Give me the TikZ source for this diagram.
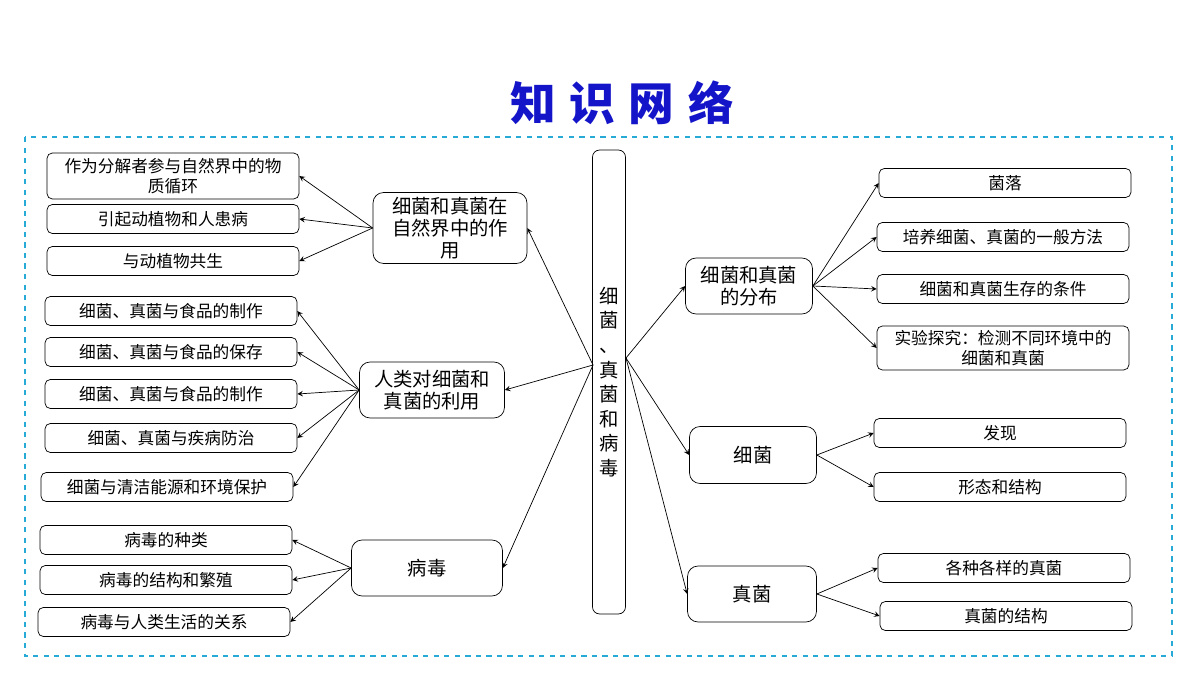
\documentclass[tikz,border=0pt]{standalone}
\usepackage{fontspec}
\setmainfont{Noto Sans CJK SC}
\usetikzlibrary{arrows,positioning}
\definecolor{frameblue}{RGB}{40,170,215}
\definecolor{titleblue}{RGB}{20,20,200}

\begin{document}
\begin{tikzpicture}[x=0.02cm, y=-0.02cm,
    leaf/.style={rectangle, draw, rounded corners=3pt, minimum width=5.04cm, minimum height=0.58cm, font=\fontsize{9.5}{11}\selectfont, align=center, inner sep=1pt},
    topic/.style={rectangle, draw, rounded corners=6pt, minimum height=1.12cm, font=\fontsize{11}{12.5}\selectfont, align=center, inner sep=1pt},
    arrow/.style={->, >=stealth, thin}
]
\useasboundingbox (0,0) rectangle (1200,675);

% title and frame
\node[font=\fontsize{26}{28}\selectfont\bfseries, text=titleblue] (title) at (622,103) {知\hspace{0.3em}识\hspace{0.3em}网\hspace{0.3em}络};
\draw[frameblue, dashed, line width=0.8pt] (25,137) rectangle (1172,656);

% centre column
\node[rectangle, draw, rounded corners=4pt, minimum width=0.66cm, minimum height=9.28cm, font=\fontsize{11}{14}\selectfont, align=center] (core) at (609,382) {细\\菌\\、\\真\\菌\\和\\病\\毒};
\coordinate (coreL) at (593,365);
\coordinate (coreR) at (626,358);

% left topics
\node[topic, minimum width=3.08cm, minimum height=1.42cm] (nature) at (450,228) {细菌和真菌在\\自然界中的作\\用};
\node[topic, minimum width=2.9cm] (use) at (432,390) {人类对细菌和\\真菌的利用};
\node[topic, minimum width=3.02cm] (virus) at (427,568) {病毒};

% right topics
\node[topic, minimum width=2.54cm] (spread) at (749,286) {细菌和真菌\\的分布};
\node[topic, minimum width=2.54cm, minimum height=1.14cm] (bact) at (753,455) {细菌};
\node[topic, minimum width=2.58cm] (fungi) at (752,594) {真菌};

% leaves of nature
\node[leaf, minimum height=0.92cm] (n1) at (173,176) {作为分解者参与自然界中的物\\质循环};
\node[leaf] (n2) at (173,219) {引起动植物和人患病};
\node[leaf] (n3) at (173,261) {与动植物共生};

% leaves of use
\node[leaf] (u1) at (171,311) {细菌、真菌与食品的制作};
\node[leaf] (u2) at (171,352) {细菌、真菌与食品的保存};
\node[leaf] (u3) at (171,394) {细菌、真菌与食品的制作};
\node[leaf] (u4) at (171,438) {细菌、真菌与疾病防治};
\node[leaf] (u5) at (167,487) {细菌与清洁能源和环境保护};

% leaves of virus
\node[leaf] (v1) at (166,540) {病毒的种类};
\node[leaf] (v2) at (166,580) {病毒的结构和繁殖};
\node[leaf] (v3) at (164,622) {病毒与人类生活的关系};

% leaves of spread
\node[leaf] (s1) at (1005,183) {菌落};
\node[leaf] (s2) at (1003,237) {培养细菌、真菌的一般方法};
\node[leaf] (s3) at (1003,289) {细菌和真菌生存的条件};
\node[leaf, minimum height=0.88cm] (s4) at (1003,348) {实验探究：检测不同环境中的\\细菌和真菌};

% leaves of bact
\node[leaf] (b1) at (1000,433) {发现};
\node[leaf] (b2) at (1000,487) {形态和结构};

% leaves of fungi
\node[leaf] (f1) at (1004,568) {各种各样的真菌};
\node[leaf] (f2) at (1006,616) {真菌的结构};

% arrows from centre
\draw[arrow] (coreL) -- (nature.east);
\draw[arrow] (coreL) -- (use.east);
\draw[arrow] (coreL) -- (virus.east);
\draw[arrow] (coreR) -- (spread.west);
\draw[arrow] (coreR) -- (bact.west);
\draw[arrow] (coreR) -- (fungi.west);

% arrows to leaves
\foreach \t in {n1,n2,n3} \draw[arrow] (nature.west) -- (\t.east);
\foreach \t in {u1,u2,u3,u4,u5} \draw[arrow] (use.west) -- (\t.east);
\foreach \t in {v1,v2,v3} \draw[arrow] (virus.west) -- (\t.east);
\foreach \t in {s1,s2,s3,s4} \draw[arrow] (spread.east) -- (\t.west);
\foreach \t in {b1,b2} \draw[arrow] (bact.east) -- (\t.west);
\foreach \t in {f1,f2} \draw[arrow] (fungi.east) -- (\t.west);

\end{tikzpicture}
\end{document}
